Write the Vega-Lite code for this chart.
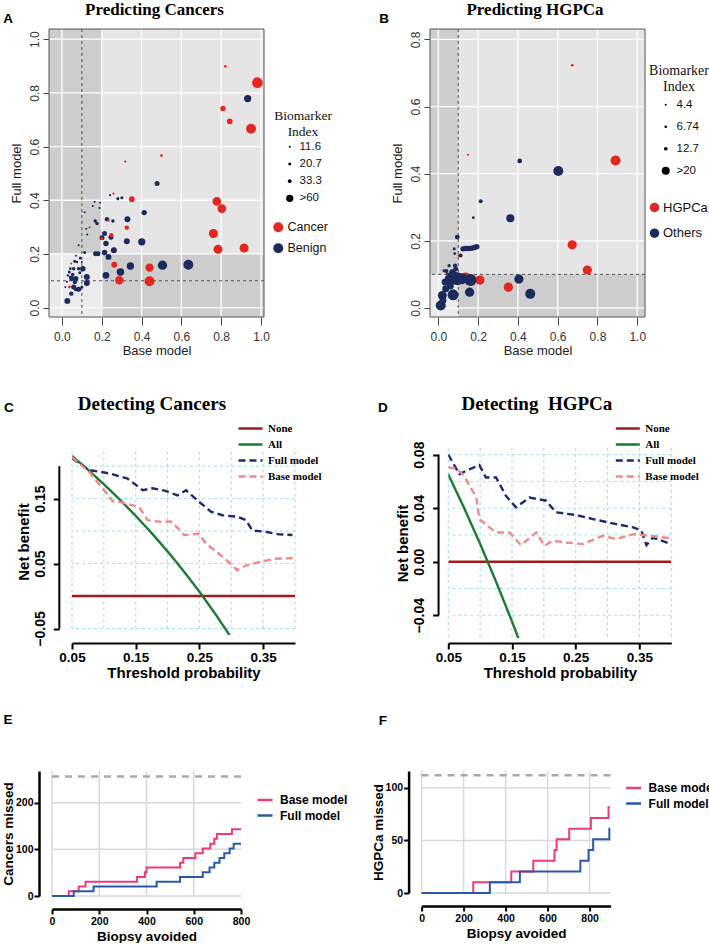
{
"$schema":"https://vega.github.io/schema/vega-lite/v6.json",
"padding":{"left":1,"top":0,"right":0,"bottom":0},
"background":"white",
"config":{"font":"Liberation Sans","view":{"stroke":null},"axis":{"labelFont":"Liberation Sans","titleFont":"Liberation Sans","grid":false},"legend":{"labelFont":"Liberation Sans","titleFont":"Liberation Sans","padding":0,"offset":0}},
"resolve":{"scale":{"color":"independent","size":"independent","strokeDash":"independent"},"legend":{"color":"independent","size":"independent","strokeDash":"independent"}},
"spacing":37,
"vconcat":[
{"hconcat":[
{"width":2,"height":1,"data":{"values":[]},"mark":"point"},
{"hconcat":[
{"width":215,"height":288,
"layer":[
{"data":{"values":[{"x":-0.065,"xe":1.015,"y":-0.035,"ye":1.038}]},"mark":{"type":"rect","color":"#e5e5e5"},
 "encoding":{"x":{"field":"x","type":"quantitative","scale":{"domain":[-0.065,1.015],"nice":false,"zero":false},"title":"Base model","axis":{"values":[0,0.2,0.4,0.6,0.8,1],"format":".1f","domain":false,"grid":false,"tickSize":8,"tickColor":"#444444","labelFontSize":12,"labelColor":"#333333","labelPadding":6,"labelFlush":false,"titleFontSize":13,"titleFontWeight":"normal","titleColor":"#222222","titlePadding":2}},
 "x2":{"field":"xe"},
 "y":{"field":"y","type":"quantitative","scale":{"domain":[-0.035,1.038],"nice":false,"zero":false},"title":"Full model","axis":{"values":[0,0.2,0.4,0.6,0.8,1],"format":".1f","domain":false,"grid":false,"tickSize":6,"tickColor":"#444444","labelFontSize":12,"labelColor":"#333333","labelAngle":270,"labelAlign":"center","labelBaseline":"bottom","labelPadding":2,"labelFlush":false,"titleFontSize":13,"titleFontWeight":"normal","titleColor":"#222222","titlePadding":5}},
 "y2":{"field":"ye"}}},
{"data":{"values":[{"x":-0.065,"xe":0.2,"y":0.2,"ye":1.038},{"x":0.2,"xe":1.015,"y":-0.035,"ye":0.2}]},"mark":{"type":"rect","color":"#cdcdcd"},
 "encoding":{"x":{"field":"x","type":"quantitative","scale":{"domain":[-0.065,1.015],"nice":false,"zero":false}},"x2":{"field":"xe"},"y":{"field":"y","type":"quantitative","scale":{"domain":[-0.035,1.038],"nice":false,"zero":false}},"y2":{"field":"ye"}}},
{"data":{"values":[{"x":-0.065,"xe":0.2,"y":-0.035,"ye":0.2}]},"mark":{"type":"rect","color":"#ebebeb"},
 "encoding":{"x":{"field":"x","type":"quantitative","scale":{"domain":[-0.065,1.015],"nice":false,"zero":false}},"x2":{"field":"xe"},"y":{"field":"y","type":"quantitative","scale":{"domain":[-0.035,1.038],"nice":false,"zero":false}},"y2":{"field":"ye"}}},
{"data":{"values":[{"x":0},{"x":0.2},{"x":0.4},{"x":0.6},{"x":0.8},{"x":1}]},"mark":{"type":"rule","color":"white","strokeWidth":1.3},
 "encoding":{"x":{"field":"x","type":"quantitative","scale":{"domain":[-0.065,1.015],"nice":false,"zero":false}}}},
{"data":{"values":[{"y":0},{"y":0.2},{"y":0.4},{"y":0.6},{"y":0.8},{"y":1}]},"mark":{"type":"rule","color":"white","strokeWidth":1.3},
 "encoding":{"y":{"field":"y","type":"quantitative","scale":{"domain":[-0.035,1.038],"nice":false,"zero":false}}}},
{"data":{"values":[{"x":0.1}]},"mark":{"type":"rule","color":"#555555","strokeWidth":1,"strokeDash":[3,3]},
 "encoding":{"x":{"field":"x","type":"quantitative","scale":{"domain":[-0.065,1.015],"nice":false,"zero":false}}}},
{"data":{"values":[{"y":0.1}]},"mark":{"type":"rule","color":"#555555","strokeWidth":1,"strokeDash":[3,3]},
 "encoding":{"y":{"field":"y","type":"quantitative","scale":{"domain":[-0.035,1.038],"nice":false,"zero":false}}}},
{"data":{"values":[{"x":-0.065,"xe":1.015,"y":-0.035,"ye":1.038}]},"mark":{"type":"rect","fill":"transparent","stroke":"#555555","strokeWidth":1},
 "encoding":{"x":{"field":"x","type":"quantitative","scale":{"domain":[-0.065,1.015],"nice":false,"zero":false}},"x2":{"field":"xe"},"y":{"field":"y","type":"quantitative","scale":{"domain":[-0.035,1.038],"nice":false,"zero":false}},"y2":{"field":"ye"}}},
{"data":{"values":[
{"x":0.821,"y":0.899,"bi":17,"g":"Cancer"},{"x":0.982,"y":0.838,"bi":115,"g":"Cancer"},{"x":0.933,"y":0.779,"bi":60,"g":"Benign"},{"x":0.809,"y":0.742,"bi":43,"g":"Cancer"},{"x":0.843,"y":0.694,"bi":46,"g":"Cancer"},{"x":0.95,"y":0.666,"bi":101,"g":"Cancer"},{"x":0.5,"y":0.566,"bi":17,"g":"Cancer"},{"x":0.318,"y":0.544,"bi":14,"g":"Cancer"},{"x":0.478,"y":0.462,"bi":41,"g":"Benign"},{"x":0.351,"y":0.404,"bi":46,"g":"Cancer"},{"x":0.778,"y":0.396,"bi":80,"g":"Cancer"},{"x":0.803,"y":0.369,"bi":80,"g":"Cancer"},{"x":0.413,"y":0.354,"bi":43,"g":"Benign"},{"x":0.329,"y":0.329,"bi":48,"g":"Benign"},{"x":0.326,"y":0.298,"bi":37,"g":"Cancer"},{"x":0.761,"y":0.276,"bi":85,"g":"Cancer"},{"x":0.401,"y":0.245,"bi":60,"g":"Benign"},{"x":0.326,"y":0.247,"bi":48,"g":"Benign"},{"x":0.784,"y":0.217,"bi":85,"g":"Cancer"},{"x":0.915,"y":0.222,"bi":85,"g":"Cancer"},{"x":0.635,"y":0.16,"bi":101,"g":"Benign"},{"x":0.505,"y":0.158,"bi":90,"g":"Benign"},{"x":0.44,"y":0.149,"bi":74,"g":"Cancer"},{"x":0.344,"y":0.155,"bi":60,"g":"Benign"},{"x":0.294,"y":0.133,"bi":63,"g":"Benign"},{"x":0.44,"y":0.098,"bi":101,"g":"Cancer"},{"x":0.288,"y":0.102,"bi":74,"g":"Cancer"},{"x":0.263,"y":0.16,"bi":48,"g":"Cancer"},{"x":0.221,"y":0.12,"bi":54,"g":"Benign"},{"x":0.261,"y":0.214,"bi":48,"g":"Benign"},{"x":0.234,"y":0.189,"bi":48,"g":"Benign"},{"x":0.214,"y":0.205,"bi":44,"g":"Benign"},{"x":0.221,"y":0.239,"bi":44,"g":"Benign"},{"x":0.246,"y":0.262,"bi":41,"g":"Benign"},{"x":0.248,"y":0.27,"bi":35,"g":"Cancer"},{"x":0.201,"y":0.26,"bi":41,"g":"Benign"},{"x":0.2,"y":0.257,"bi":20,"g":"Cancer"},{"x":0.214,"y":0.276,"bi":41,"g":"Benign"},{"x":0.226,"y":0.329,"bi":37,"g":"Benign"},{"x":0.234,"y":0.325,"bi":15,"g":"Cancer"},{"x":0.256,"y":0.323,"bi":28,"g":"Benign"},{"x":0.259,"y":0.425,"bi":14,"g":"Cancer"},{"x":0.242,"y":0.419,"bi":12,"g":"Benign"},{"x":0.281,"y":0.406,"bi":21,"g":"Benign"},{"x":0.301,"y":0.409,"bi":21,"g":"Benign"},{"x":0.192,"y":0.391,"bi":12,"g":"Benign"},{"x":0.164,"y":0.394,"bi":11.6,"g":"Benign"},{"x":0.155,"y":0.379,"bi":11.6,"g":"Benign"},{"x":0.189,"y":0.371,"bi":13,"g":"Benign"},{"x":0.114,"y":0.355,"bi":12,"g":"Benign"},{"x":0.167,"y":0.323,"bi":28,"g":"Benign"},{"x":0.176,"y":0.313,"bi":28,"g":"Benign"},{"x":0.139,"y":0.299,"bi":12,"g":"Cancer"},{"x":0.122,"y":0.294,"bi":11.6,"g":"Benign"},{"x":0.127,"y":0.272,"bi":12,"g":"Benign"},{"x":0.084,"y":0.232,"bi":11.6,"g":"Benign"},{"x":0.114,"y":0.205,"bi":21,"g":"Benign"},{"x":0.169,"y":0.201,"bi":41,"g":"Benign"},{"x":0.181,"y":0.201,"bi":41,"g":"Benign"},{"x":0.092,"y":0.185,"bi":21,"g":"Benign"},{"x":0.07,"y":0.193,"bi":12,"g":"Benign"},{"x":0.064,"y":0.173,"bi":21,"g":"Benign"},{"x":0.105,"y":0.145,"bi":44,"g":"Benign"},{"x":0.125,"y":0.114,"bi":48,"g":"Benign"},{"x":0.125,"y":0.092,"bi":48,"g":"Benign"},{"x":0.084,"y":0.068,"bi":41,"g":"Benign"},{"x":0.07,"y":0.068,"bi":35,"g":"Benign"},{"x":0.047,"y":0.052,"bi":37,"g":"Benign"},{"x":0.027,"y":0.025,"bi":48,"g":"Benign"},{"x":0.059,"y":0.077,"bi":41,"g":"Benign"},{"x":0.038,"y":0.077,"bi":17,"g":"Cancer"},{"x":0.05,"y":0.108,"bi":41,"g":"Benign"},{"x":0.07,"y":0.108,"bi":41,"g":"Benign"},{"x":0.037,"y":0.133,"bi":21,"g":"Benign"},{"x":0.059,"y":0.145,"bi":28,"g":"Benign"},{"x":0.047,"y":0.164,"bi":12,"g":"Cancer"},{"x":0.084,"y":0.145,"bi":28,"g":"Benign"},{"x":0.042,"y":0.145,"bi":17,"g":"Benign"},{"x":0.025,"y":0.096,"bi":12,"g":"Benign"},{"x":0.054,"y":0.123,"bi":28,"g":"Benign"},{"x":0.1,"y":0.17,"bi":12,"g":"Benign"},{"x":0.075,"y":0.17,"bi":17,"g":"Benign"},{"x":0.017,"y":0.077,"bi":11.6,"g":"Benign"},{"x":0.1,"y":0.077,"bi":21,"g":"Benign"},{"x":0.03,"y":0.12,"bi":15,"g":"Benign"},{"x":0.065,"y":0.095,"bi":37,"g":"Benign"},{"x":0.045,"y":0.112,"bi":35,"g":"Benign"},{"x":0.09,"y":0.13,"bi":21,"g":"Benign"}
]},"mark":{"type":"circle","opacity":1},
 "encoding":{"x":{"field":"x","type":"quantitative","scale":{"domain":[-0.065,1.015],"nice":false,"zero":false}},"y":{"field":"y","type":"quantitative","scale":{"domain":[-0.035,1.038],"nice":false,"zero":false}},
 "size":{"field":"bi","type":"quantitative","scale":{"domain":[11.6,20.7,33.3,60,120],"range":[4,9,14,53,121]},"legend":{"orient":"none","legendX":225,"legendY":80,"title":["Biomarker","Index"],"titleFont":"Liberation Serif","titleFontSize":13.5,"titleFontWeight":"normal","titleColor":"#111111","titleAlign":"center","titleAnchor":"middle","titlePadding":3,"values":[11.6,20.7,33.3,60],"labelExpr":"datum.value >= 60 ? '>60' : '' + datum.value","labelFontSize":11.5,"labelColor":"#111111","labelOffset":4,"symbolFillColor":"black","symbolStrokeWidth":0,"symbolType":"circle","rowPadding":4.2}},
 "color":{"field":"g","type":"nominal","scale":{"domain":["Cancer","Benign"],"range":["#e3261f","#1c2a5c"]},"legend":{"orient":"none","legendX":223,"legendY":192,"title":null,"labelFontSize":12.5,"labelColor":"#111111","labelOffset":3,"symbolType":"circle","symbolSize":100,"symbolStrokeWidth":0,"rowPadding":8}}}},
{"data":{"values":[{"label":"Predicting Cancers"}]},"mark":{"type":"text","font":"Liberation Serif","fontSize":17,"fontWeight":"bold","align":"center","baseline":"alphabetic","color":"black"},
 "encoding":{"x":{"datum":0.465},"y":{"datum":1.092},"text":{"field":"label"}}},
{"data":{"values":[{"label":"A"}]},"mark":{"type":"text","font":"Liberation Sans","fontSize":13.5,"fontWeight":"bold","align":"center","baseline":"middle","color":"black"},
 "encoding":{"x":{"datum":-0.27},"y":{"datum":1.077},"text":{"field":"label"}}}
]},
{"width":215,"height":288,
"layer":[
{"data":{"values":[{"x":-0.042,"xe":1.039,"y":-0.027,"ye":0.831}]},"mark":{"type":"rect","color":"#e5e5e5"},
 "encoding":{"x":{"field":"x","type":"quantitative","scale":{"domain":[-0.042,1.039],"nice":false,"zero":false},"title":"Base model","axis":{"values":[0,0.2,0.4,0.6,0.8,1],"format":".1f","domain":false,"grid":false,"tickSize":8,"tickColor":"#444444","labelFontSize":12,"labelColor":"#333333","labelPadding":6,"labelFlush":false,"titleFontSize":13,"titleFontWeight":"normal","titleColor":"#222222","titlePadding":2}},
 "x2":{"field":"xe"},
 "y":{"field":"y","type":"quantitative","scale":{"domain":[-0.027,0.831],"nice":false,"zero":false},"title":"Full model","axis":{"values":[0,0.2,0.4,0.6,0.8],"format":".1f","domain":false,"grid":false,"tickSize":6,"tickColor":"#444444","labelFontSize":12,"labelColor":"#333333","labelAngle":270,"labelAlign":"center","labelBaseline":"bottom","labelPadding":2,"labelFlush":false,"titleFontSize":13,"titleFontWeight":"normal","titleColor":"#222222","titlePadding":5}},
 "y2":{"field":"ye"}}},
{"data":{"values":[{"x":-0.042,"xe":0.1,"y":0.1,"ye":0.831},{"x":0.1,"xe":1.039,"y":-0.027,"ye":0.1}]},"mark":{"type":"rect","color":"#cdcdcd"},
 "encoding":{"x":{"field":"x","type":"quantitative","scale":{"domain":[-0.042,1.039],"nice":false,"zero":false}},"x2":{"field":"xe"},"y":{"field":"y","type":"quantitative","scale":{"domain":[-0.027,0.831],"nice":false,"zero":false}},"y2":{"field":"ye"}}},
{"data":{"values":[{"x":-0.042,"xe":0.1,"y":-0.027,"ye":0.1}]},"mark":{"type":"rect","color":"#ebebeb"},
 "encoding":{"x":{"field":"x","type":"quantitative","scale":{"domain":[-0.042,1.039],"nice":false,"zero":false}},"x2":{"field":"xe"},"y":{"field":"y","type":"quantitative","scale":{"domain":[-0.027,0.831],"nice":false,"zero":false}},"y2":{"field":"ye"}}},
{"data":{"values":[{"x":0},{"x":0.2},{"x":0.4},{"x":0.6},{"x":0.8},{"x":1}]},"mark":{"type":"rule","color":"white","strokeWidth":1.3},
 "encoding":{"x":{"field":"x","type":"quantitative","scale":{"domain":[-0.042,1.039],"nice":false,"zero":false}}}},
{"data":{"values":[{"y":0},{"y":0.2},{"y":0.4},{"y":0.6},{"y":0.8}]},"mark":{"type":"rule","color":"white","strokeWidth":1.3},
 "encoding":{"y":{"field":"y","type":"quantitative","scale":{"domain":[-0.027,0.831],"nice":false,"zero":false}}}},
{"data":{"values":[{"x":0.1}]},"mark":{"type":"rule","color":"#555555","strokeWidth":1,"strokeDash":[3,3]},
 "encoding":{"x":{"field":"x","type":"quantitative","scale":{"domain":[-0.042,1.039],"nice":false,"zero":false}}}},
{"data":{"values":[{"y":0.1}]},"mark":{"type":"rule","color":"#555555","strokeWidth":1,"strokeDash":[3,3]},
 "encoding":{"y":{"field":"y","type":"quantitative","scale":{"domain":[-0.027,0.831],"nice":false,"zero":false}}}},
{"data":{"values":[{"x":-0.042,"xe":1.039,"y":-0.027,"ye":0.831}]},"mark":{"type":"rect","fill":"transparent","stroke":"#555555","strokeWidth":1},
 "encoding":{"x":{"field":"x","type":"quantitative","scale":{"domain":[-0.042,1.039],"nice":false,"zero":false}},"x2":{"field":"xe"},"y":{"field":"y","type":"quantitative","scale":{"domain":[-0.027,0.831],"nice":false,"zero":false}},"y2":{"field":"ye"}}},
{"data":{"values":[
{"x":0.673,"y":0.723,"bi":6.74,"g":"HGPCa"},{"x":0.149,"y":0.456,"bi":4.4,"g":"HGPCa"},{"x":0.409,"y":0.438,"bi":14,"g":"Others"},{"x":0.603,"y":0.408,"bi":26.8,"g":"Others"},{"x":0.891,"y":0.439,"bi":26.8,"g":"HGPCa"},{"x":0.213,"y":0.318,"bi":13,"g":"Others"},{"x":0.176,"y":0.269,"bi":6.74,"g":"Others"},{"x":0.362,"y":0.267,"bi":20,"g":"Others"},{"x":0.673,"y":0.188,"bi":24,"g":"HGPCa"},{"x":0.749,"y":0.113,"bi":24,"g":"HGPCa"},{"x":0.095,"y":0.211,"bi":14,"g":"Others"},{"x":0.352,"y":0.062,"bi":24,"g":"HGPCa"},{"x":0.405,"y":0.086,"bi":24,"g":"Others"},{"x":0.462,"y":0.042,"bi":26.8,"g":"Others"},{"x":0.137,"y":0.094,"bi":20,"g":"HGPCa"},{"x":0.209,"y":0.083,"bi":24,"g":"HGPCa"},{"x":0.162,"y":0.083,"bi":35,"g":"Others"},{"x":0.157,"y":0.047,"bi":24,"g":"Others"},{"x":0.104,"y":0.156,"bi":6.74,"g":"HGPCa"},{"x":0.112,"y":0.156,"bi":13,"g":"Others"},
{"x":0.124,"y":0.176,"bi":15,"g":"Others"},{"x":0.137,"y":0.177,"bi":15,"g":"Others"},{"x":0.152,"y":0.177,"bi":15,"g":"Others"},{"x":0.168,"y":0.178,"bi":15,"g":"Others"},{"x":0.181,"y":0.18,"bi":15,"g":"Others"},{"x":0.193,"y":0.182,"bi":15,"g":"Others"},
{"x":0.08,"y":0.176,"bi":8.3,"g":"Others"},{"x":0.082,"y":0.162,"bi":6.74,"g":"Others"},{"x":0.054,"y":0.126,"bi":10,"g":"Others"},{"x":0.084,"y":0.126,"bi":13.3,"g":"Others"},{"x":0.087,"y":0.116,"bi":14.3,"g":"Others"},{"x":0.045,"y":0.101,"bi":8.3,"g":"Others"},{"x":0.028,"y":0.111,"bi":6.74,"g":"Others"},{"x":0.04,"y":0.11,"bi":13.3,"g":"Others"},{"x":0.045,"y":0.097,"bi":8.3,"g":"HGPCa"},{"x":0.07,"y":0.106,"bi":16,"g":"Others"},{"x":0.08,"y":0.1,"bi":16,"g":"Others"},{"x":0.05,"y":0.087,"bi":17.8,"g":"Others"},{"x":0.065,"y":0.095,"bi":20,"g":"Others"},{"x":0.034,"y":0.077,"bi":17.8,"g":"Others"},{"x":0.062,"y":0.082,"bi":26.8,"g":"Others"},{"x":0.095,"y":0.087,"bi":40,"g":"Others"},{"x":0.12,"y":0.087,"bi":30.7,"g":"Others"},{"x":0.06,"y":0.065,"bi":17.8,"g":"Others"},{"x":0.037,"y":0.057,"bi":17.8,"g":"Others"},{"x":0.074,"y":0.039,"bi":30.7,"g":"Others"},{"x":0.02,"y":0.037,"bi":23.2,"g":"Others"},{"x":0.023,"y":0.022,"bi":17.8,"g":"Others"},{"x":0.012,"y":0.007,"bi":26.8,"g":"Others"}
]},"mark":{"type":"circle","opacity":1},
 "encoding":{"x":{"field":"x","type":"quantitative","scale":{"domain":[-0.042,1.039],"nice":false,"zero":false}},"y":{"field":"y","type":"quantitative","scale":{"domain":[-0.027,0.831],"nice":false,"zero":false}},
 "size":{"field":"bi","type":"quantitative","scale":{"domain":[4.4,6.74,12.7,20,40],"range":[4,7.3,14,64,170]},"legend":{"orient":"none","legendX":219,"legendY":35,"title":["Biomarker","Index"],"titleFont":"Liberation Serif","titleFontSize":14,"titleFontWeight":"normal","titleColor":"#111111","titleAlign":"center","titleAnchor":"middle","titlePadding":5,"values":[4.4,6.74,12.7,20],"labelExpr":"datum.value >= 20 ? '>20' : '' + datum.value","labelFontSize":11.5,"labelColor":"#111111","labelOffset":5,"symbolFillColor":"black","symbolStrokeWidth":0,"symbolType":"circle","rowPadding":9}},
 "color":{"field":"g","type":"nominal","scale":{"domain":["HGPCa","Others"],"range":["#e3261f","#1c2a5c"]},"legend":{"orient":"none","legendX":218,"legendY":172,"title":null,"labelFontSize":13,"labelColor":"#111111","labelOffset":2,"symbolType":"circle","symbolSize":90,"symbolStrokeWidth":0,"rowPadding":11.7}}}},
{"data":{"values":[{"label":"Predicting HGPCa"}]},"mark":{"type":"text","font":"Liberation Serif","fontSize":17,"fontWeight":"bold","align":"center","baseline":"alphabetic","color":"black"},
 "encoding":{"x":{"datum":0.486},"y":{"datum":0.873},"text":{"field":"label"}}},
{"data":{"values":[{"label":"B"}]},"mark":{"type":"text","font":"Liberation Sans","fontSize":13.5,"fontWeight":"bold","align":"center","baseline":"middle","color":"black"},
 "encoding":{"x":{"datum":-0.273},"y":{"datum":0.861},"text":{"field":"label"}}}
]}
],"spacing":166,"bounds":"flush","resolve":{"scale":{"color":"independent","size":"independent","strokeDash":"independent"},"legend":{"color":"independent","size":"independent","strokeDash":"independent"}}}
],"spacing":0,"bounds":"flush","resolve":{"scale":{"color":"independent","size":"independent","strokeDash":"independent"},"legend":{"color":"independent","size":"independent","strokeDash":"independent"}}},
{"vconcat":[
{"hconcat":[
{"width":24.7,"height":1,"data":{"values":[]},"mark":"point"},
{"hconcat":[
{"width":223,"height":187,
"layer":[
{"data":{"values":[{"t":0.05},{"t":0.1},{"t":0.15},{"t":0.2},{"t":0.25},{"t":0.3},{"t":0.35},{"t":0.4}]},"mark":{"type":"rule","color":"#a6dcef","strokeWidth":1,"strokeDash":[3,3]},
 "encoding":{"x":{"field":"t","type":"quantitative","scale":{"domain":[0.05,0.4],"nice":false,"zero":false},"title":"Threshold probability","axis":{"values":[0.05,0.1,0.15,0.2,0.25,0.3,0.35,0.4],"labelExpr":"round(datum.value*100) % 10 == 5 ? format(datum.value, '.2f') : ''","offset":8,"domainColor":"black","domainWidth":2,"tickColor":"black","tickWidth":2,"tickSize":6,"labelFontSize":13.5,"labelFontWeight":"bold","labelColor":"black","labelPadding":1,"labelFlush":false,"titleFontSize":15,"titleFontWeight":"bold","titleColor":"black","titlePadding":2}},
 "y":{"datum":-0.05},"y2":{"datum":0.228}}},
{"data":{"values":[{"nb":-0.05},{"nb":0.05},{"nb":0.1},{"nb":0.15},{"nb":0.2}]},"mark":{"type":"rule","color":"#a6dcef","strokeWidth":1,"strokeDash":[3,3]},
 "encoding":{"y":{"field":"nb","type":"quantitative","scale":{"domain":[-0.06,0.228],"nice":false,"zero":false},"title":"Net benefit","axis":{"values":[-0.05,0,0.05,0.1,0.15,0.2],"labelExpr":"round(datum.value*100) % 10 != 0 ? format(datum.value, '.2f') : ''","offset":12.7,"domain":false,"tickColor":"black","tickWidth":2,"tickSize":6,"labelFontSize":14,"labelFontWeight":"bold","labelColor":"black","labelAngle":270,"labelAlign":"center","labelBaseline":"bottom","labelPadding":6,"labelFlush":false,"titleFontSize":15,"titleFontWeight":"bold","titleColor":"black","titlePadding":2}}}},
{"data":{"values":[{"lab":"axis"}]},"mark":{"type":"rule","color":"black","strokeWidth":2},
 "encoding":{"x":{"datum":0.0301},"y":{"datum":-0.05},"y2":{"datum":0.2}}},
{"data":{"values":[
{"s":"None","t":0.05,"nb":0},{"s":"None","t":0.4,"nb":0},
{"s":"All","t":0.05,"nb":0.2158},{"s":"All","t":0.075,"nb":0.1946},{"s":"All","t":0.1,"nb":0.1722},{"s":"All","t":0.125,"nb":0.1486},{"s":"All","t":0.15,"nb":0.1235},{"s":"All","t":0.175,"nb":0.097},{"s":"All","t":0.2,"nb":0.0688},{"s":"All","t":0.225,"nb":0.0387},{"s":"All","t":0.25,"nb":0.0067},{"s":"All","t":0.275,"nb":-0.0276},{"s":"All","t":0.3,"nb":-0.0643},
{"s":"Full model","t":0.05,"nb":0.212},{"s":"Full model","t":0.077,"nb":0.194},{"s":"Full model","t":0.108,"nb":0.189},{"s":"Full model","t":0.137,"nb":0.181},{"s":"Full model","t":0.161,"nb":0.163},{"s":"Full model","t":0.176,"nb":0.166},{"s":"Full model","t":0.197,"nb":0.162},{"s":"Full model","t":0.2155,"nb":0.155},{"s":"Full model","t":0.229,"nb":0.163},{"s":"Full model","t":0.2495,"nb":0.145},{"s":"Full model","t":0.268,"nb":0.13},{"s":"Full model","t":0.286,"nb":0.1245},{"s":"Full model","t":0.31,"nb":0.122},{"s":"Full model","t":0.323,"nb":0.117},{"s":"Full model","t":0.333,"nb":0.101},{"s":"Full model","t":0.354,"nb":0.099},{"s":"Full model","t":0.375,"nb":0.095},{"s":"Full model","t":0.396,"nb":0.094},
{"s":"Base model","t":0.05,"nb":0.214},{"s":"Base model","t":0.077,"nb":0.191},{"s":"Base model","t":0.098,"nb":0.166},{"s":"Base model","t":0.114,"nb":0.146},{"s":"Base model","t":0.125,"nb":0.145},{"s":"Base model","t":0.1555,"nb":0.137},{"s":"Base model","t":0.1685,"nb":0.117},{"s":"Base model","t":0.192,"nb":0.114},{"s":"Base model","t":0.205,"nb":0.115},{"s":"Base model","t":0.221,"nb":0.0998},{"s":"Base model","t":0.226,"nb":0.094},{"s":"Base model","t":0.2495,"nb":0.096},{"s":"Base model","t":0.26,"nb":0.081},{"s":"Base model","t":0.281,"nb":0.065},{"s":"Base model","t":0.302,"nb":0.047},{"s":"Base model","t":0.309,"nb":0.04},{"s":"Base model","t":0.323,"nb":0.047},{"s":"Base model","t":0.349,"nb":0.0535},{"s":"Base model","t":0.37,"nb":0.0575},{"s":"Base model","t":0.4,"nb":0.0586}
]},"mark":{"type":"line","strokeWidth":2.4,"clip":true},
 "encoding":{"x":{"field":"t","type":"quantitative","scale":{"domain":[0.05,0.4],"nice":false,"zero":false}},"y":{"field":"nb","type":"quantitative","scale":{"domain":[-0.06,0.228],"nice":false,"zero":false}},
 "color":{"field":"s","type":"nominal","scale":{"domain":["None","All","Full model","Base model"],"range":["#a01c1c","#1e7a34","#1f2a6b","#f08a8a"]},"legend":{"orient":"none","legendX":165,"legendY":-27.5,"title":null,"labelFont":"Liberation Serif","labelFontSize":11,"labelFontWeight":"bold","labelColor":"black","labelOffset":4,"symbolType":"stroke","symbolSize":576,"symbolStrokeWidth":2.5,"rowPadding":0,"clipHeight":16}},
 "strokeDash":{"field":"s","type":"nominal","scale":{"domain":["None","All","Full model","Base model"],"range":[[1,0],[1,0],[7,4],[7,4]]},"legend":{"orient":"none","legendX":165,"legendY":-27.5,"title":null,"labelFont":"Liberation Serif","labelFontSize":11,"labelFontWeight":"bold","labelColor":"black","labelOffset":4,"symbolType":"stroke","symbolSize":576,"symbolStrokeWidth":2.5,"rowPadding":0,"clipHeight":16}}}},
{"data":{"values":[{"label":"Detecting Cancers"}]},"mark":{"type":"text","font":"Liberation Serif","fontSize":19,"fontWeight":"bold","align":"center","baseline":"alphabetic","color":"black"},
 "encoding":{"x":{"datum":0.1754},"y":{"datum":0.287},"text":{"field":"label"}}},
{"data":{"values":[{"label":"C"}]},"mark":{"type":"text","font":"Liberation Sans","fontSize":13.5,"fontWeight":"bold","align":"center","baseline":"middle","color":"black"},
 "encoding":{"x":{"datum":-0.049},"y":{"datum":0.29},"text":{"field":"label"}}}
]},
{"width":223,"height":190,
"layer":[
{"data":{"values":[{"t":0.05},{"t":0.1},{"t":0.15},{"t":0.2},{"t":0.25},{"t":0.3},{"t":0.35},{"t":0.4}]},"mark":{"type":"rule","color":"#a6dcef","strokeWidth":1,"strokeDash":[3,3]},
 "encoding":{"x":{"field":"t","type":"quantitative","scale":{"domain":[0.05,0.4],"nice":false,"zero":false},"title":"Threshold probability","axis":{"values":[0.05,0.1,0.15,0.2,0.25,0.3,0.35,0.4],"labelExpr":"round(datum.value*100) % 10 == 5 ? format(datum.value, '.2f') : ''","offset":5,"domainColor":"black","domainWidth":2,"tickColor":"black","tickWidth":2,"tickSize":6,"labelFontSize":13.5,"labelFontWeight":"bold","labelColor":"black","labelPadding":1,"labelFlush":false,"titleFontSize":15,"titleFontWeight":"bold","titleColor":"black","titlePadding":2}}}},
{"data":{"values":[{"nb":-0.04},{"nb":-0.02},{"nb":0.02},{"nb":0.04},{"nb":0.06},{"nb":0.08}]},"mark":{"type":"rule","color":"#a6dcef","strokeWidth":1,"strokeDash":[3,3]},
 "encoding":{"y":{"field":"nb","type":"quantitative","scale":{"domain":[-0.057,0.085],"nice":false,"zero":false},"title":"Net benefit","axis":{"values":[-0.04,-0.02,0,0.02,0.04,0.06,0.08],"labelExpr":"round(datum.value*100) % 4 == 0 ? format(datum.value, '.2f') : ''","offset":9.7,"domain":false,"tickColor":"black","tickWidth":2,"tickSize":6,"labelFontSize":14,"labelFontWeight":"bold","labelColor":"black","labelAngle":270,"labelAlign":"center","labelBaseline":"bottom","labelPadding":6,"labelFlush":false,"titleFontSize":15,"titleFontWeight":"bold","titleColor":"black","titlePadding":2}}}},
{"data":{"values":[{"lab":"axis"}]},"mark":{"type":"rule","color":"black","strokeWidth":2},
 "encoding":{"x":{"datum":0.0347},"y":{"datum":-0.04},"y2":{"datum":0.08}}},
{"data":{"values":[
{"s":"None","t":0.05,"nb":0},{"s":"None","t":0.4,"nb":0},
{"s":"All","t":0.05,"nb":0.0653},{"s":"All","t":0.075,"nb":0.04},{"s":"All","t":0.1,"nb":0.0133},{"s":"All","t":0.125,"nb":-0.0149},{"s":"All","t":0.15,"nb":-0.0447},{"s":"All","t":0.16,"nb":-0.0571},
{"s":"Full model","t":0.05,"nb":0.08},{"s":"Full model","t":0.0673,"nb":0.0655},{"s":"Full model","t":0.083,"nb":0.069},{"s":"Full model","t":0.0987,"nb":0.0723},{"s":"Full model","t":0.109,"nb":0.063},{"s":"Full model","t":0.125,"nb":0.063},{"s":"Full model","t":0.1407,"nb":0.049},{"s":"Full model","t":0.1564,"nb":0.0406},{"s":"Full model","t":0.1774,"nb":0.048},{"s":"Full model","t":0.2036,"nb":0.0456},{"s":"Full model","t":0.219,"nb":0.0369},{"s":"Full model","t":0.2508,"nb":0.0349},{"s":"Full model","t":0.277,"nb":0.0319},{"s":"Full model","t":0.3137,"nb":0.0281},{"s":"Full model","t":0.34,"nb":0.0257},{"s":"Full model","t":0.353,"nb":0.0232},{"s":"Full model","t":0.361,"nb":0.0124},{"s":"Full model","t":0.371,"nb":0.018},{"s":"Full model","t":0.4,"nb":0.0132},
{"s":"Base model","t":0.05,"nb":0.0705},{"s":"Base model","t":0.062,"nb":0.0698},{"s":"Base model","t":0.0752,"nb":0.0643},{"s":"Base model","t":0.083,"nb":0.0568},{"s":"Base model","t":0.0935,"nb":0.049},{"s":"Base model","t":0.0987,"nb":0.0319},{"s":"Base model","t":0.1145,"nb":0.0257},{"s":"Base model","t":0.125,"nb":0.0219},{"s":"Base model","t":0.146,"nb":0.0219},{"s":"Base model","t":0.164,"nb":0.0124},{"s":"Base model","t":0.188,"nb":0.0219},{"s":"Base model","t":0.201,"nb":0.012},{"s":"Base model","t":0.214,"nb":0.0157},{"s":"Base model","t":0.235,"nb":0.0144},{"s":"Base model","t":0.261,"nb":0.0132},{"s":"Base model","t":0.2926,"nb":0.0194},{"s":"Base model","t":0.314,"nb":0.0169},{"s":"Base model","t":0.34,"nb":0.0206},{"s":"Base model","t":0.366,"nb":0.0194},{"s":"Base model","t":0.4,"nb":0.0174}
]},"mark":{"type":"line","strokeWidth":2.4,"clip":true},
 "encoding":{"x":{"field":"t","type":"quantitative","scale":{"domain":[0.05,0.4],"nice":false,"zero":false}},"y":{"field":"nb","type":"quantitative","scale":{"domain":[-0.057,0.085],"nice":false,"zero":false}},
 "color":{"field":"s","type":"nominal","scale":{"domain":["None","All","Full model","Base model"],"range":["#a01c1c","#1e7a34","#1f2a6b","#f08a8a"]},"legend":{"orient":"none","legendX":166,"legendY":-27.5,"title":null,"labelFont":"Liberation Serif","labelFontSize":11,"labelFontWeight":"bold","labelColor":"black","labelOffset":4,"symbolType":"stroke","symbolSize":576,"symbolStrokeWidth":2.5,"rowPadding":0,"clipHeight":16}},
 "strokeDash":{"field":"s","type":"nominal","scale":{"domain":["None","All","Full model","Base model"],"range":[[1,0],[1,0],[7,4],[7,4]]},"legend":{"orient":"none","legendX":166,"legendY":-27.5,"title":null,"labelFont":"Liberation Serif","labelFontSize":11,"labelFontWeight":"bold","labelColor":"black","labelOffset":4,"symbolType":"stroke","symbolSize":576,"symbolStrokeWidth":2.5,"rowPadding":0,"clipHeight":16}}}},
{"data":{"values":[{"label":"Detecting\u00a0 HGPCa"}]},"mark":{"type":"text","font":"Liberation Serif","fontSize":19,"fontWeight":"bold","align":"center","baseline":"alphabetic","color":"black"},
 "encoding":{"x":{"datum":0.189},"y":{"datum":0.1132},"text":{"field":"label"}}},
{"data":{"values":[{"label":"D"}]},"mark":{"type":"text","font":"Liberation Sans","fontSize":13.5,"fontWeight":"bold","align":"center","baseline":"middle","color":"black"},
 "encoding":{"x":{"datum":-0.0525},"y":{"datum":0.1147},"text":{"field":"label"}}}
]}
],"spacing":153.3,"bounds":"flush","resolve":{"scale":{"color":"independent","size":"independent","strokeDash":"independent"},"legend":{"color":"independent","size":"independent","strokeDash":"independent"}}}
],"spacing":0,"bounds":"flush","resolve":{"scale":{"color":"independent","size":"independent","strokeDash":"independent"},"legend":{"color":"independent","size":"independent","strokeDash":"independent"}}},
{"hconcat":[
{"width":4.7,"height":1,"data":{"values":[]},"mark":"point"},
{"hconcat":[
{"width":189,"height":125,
"layer":[
{"data":{"values":[{"x":0},{"x":200},{"x":400},{"x":600}]},"mark":{"type":"rule","color":"#d9d9d9","strokeWidth":1.5},
 "encoding":{"x":{"field":"x","type":"quantitative","scale":{"domain":[0,800],"nice":false,"zero":false},"title":"Biopsy avoided","axis":{"values":[0,200,400,600,800],"offset":13,"domainColor":"black","domainWidth":2.5,"tickColor":"black","tickWidth":2,"tickSize":5,"labelFontSize":10.5,"labelFontWeight":"bold","labelColor":"black","labelPadding":2,"labelFlush":false,"titleFontSize":13.5,"titleFontWeight":"bold","titleColor":"black","titlePadding":3}}}},
{"data":{"values":[{"y":0},{"y":100},{"y":200}]},"mark":{"type":"rule","color":"#d9d9d9","strokeWidth":1.5},
 "encoding":{"y":{"field":"y","type":"quantitative","scale":{"domain":[0,267.8],"nice":false,"zero":false},"title":"Cancers missed","axis":{"values":[0,100,200],"offset":13,"domainColor":"black","domainWidth":2.5,"tickColor":"black","tickWidth":2,"tickSize":5,"labelFontSize":10.5,"labelFontWeight":"bold","labelColor":"black","labelPadding":1,"labelFlush":false,"titleFontSize":13.5,"titleFontWeight":"bold","titleColor":"black","titlePadding":0}}}},
{"data":{"values":[{"y":256}]},"mark":{"type":"rule","color":"#a9a9a9","strokeWidth":2.5,"strokeDash":[7,6]},
 "encoding":{"y":{"field":"y","type":"quantitative","scale":{"domain":[0,267.8],"nice":false,"zero":false}}}},
{"data":{"values":[
{"s":"Base model","x":0,"y":0},{"s":"Base model","x":71,"y":10.2},{"s":"Base model","x":113,"y":20.4},{"s":"Base model","x":142,"y":30.6},{"s":"Base model","x":360,"y":40.8},{"s":"Base model","x":393,"y":51},{"s":"Base model","x":400,"y":61.2},{"s":"Base model","x":542,"y":71.4},{"s":"Base model","x":556,"y":81.6},{"s":"Base model","x":607,"y":91.8},{"s":"Base model","x":638,"y":102},{"s":"Base model","x":670,"y":112.2},{"s":"Base model","x":687,"y":122.4},{"s":"Base model","x":698,"y":132.6},{"s":"Base model","x":762,"y":142.8},{"s":"Base model","x":800,"y":142.8},
{"s":"Full model","x":0,"y":0},{"s":"Full model","x":92,"y":10.2},{"s":"Full model","x":176,"y":20.4},{"s":"Full model","x":443,"y":30.6},{"s":"Full model","x":542,"y":40.8},{"s":"Full model","x":638,"y":51},{"s":"Full model","x":667,"y":61.2},{"s":"Full model","x":687,"y":71.4},{"s":"Full model","x":709,"y":81.6},{"s":"Full model","x":729,"y":91.8},{"s":"Full model","x":752,"y":102},{"s":"Full model","x":769,"y":112.2},{"s":"Full model","x":800,"y":112.2}
]},"mark":{"type":"line","interpolate":"step-after","strokeWidth":2},
 "encoding":{"x":{"field":"x","type":"quantitative","scale":{"domain":[0,800],"nice":false,"zero":false}},"y":{"field":"y","type":"quantitative","scale":{"domain":[0,267.8],"nice":false,"zero":false}},
 "color":{"field":"s","type":"nominal","scale":{"domain":["Base model","Full model"],"range":["#ee3a7b","#2b58a6"]},"legend":{"orient":"none","legendX":204,"legendY":20,"title":null,"labelFontSize":12,"labelFontWeight":"bold","labelColor":"black","labelOffset":6,"symbolType":"stroke","symbolSize":225,"symbolStrokeWidth":2.5,"rowPadding":0.5}}}},
{"data":{"values":[{"label":"E"}]},"mark":{"type":"text","font":"Liberation Sans","fontSize":13.5,"fontWeight":"bold","align":"center","baseline":"middle","color":"black"},
 "encoding":{"x":{"datum":-186},"y":{"datum":378},"text":{"field":"label"}}}
]},
{"width":189,"height":122,
"layer":[
{"data":{"values":[{"x":0},{"x":200},{"x":400},{"x":600},{"x":800}]},"mark":{"type":"rule","color":"#d9d9d9","strokeWidth":1.5},
 "encoding":{"x":{"field":"x","type":"quantitative","scale":{"domain":[0,900],"nice":false,"zero":false},"title":"Biopsy avoided","axis":{"values":[0,200,400,600,800],"offset":13,"domainColor":"black","domainWidth":2.5,"tickColor":"black","tickWidth":2,"tickSize":5,"labelFontSize":10.5,"labelFontWeight":"bold","labelColor":"black","labelPadding":2,"labelFlush":false,"titleFontSize":13.5,"titleFontWeight":"bold","titleColor":"black","titlePadding":3}}}},
{"data":{"values":[{"y":0},{"y":50},{"y":100}]},"mark":{"type":"rule","color":"#d9d9d9","strokeWidth":1.5},
 "encoding":{"y":{"field":"y","type":"quantitative","scale":{"domain":[0,116],"nice":false,"zero":false},"title":"HGPCa missed","axis":{"values":[0,50,100],"offset":13,"domainColor":"black","domainWidth":2.5,"tickColor":"black","tickWidth":2,"tickSize":5,"labelFontSize":10.5,"labelFontWeight":"bold","labelColor":"black","labelPadding":1,"labelFlush":false,"titleFontSize":13.5,"titleFontWeight":"bold","titleColor":"black","titlePadding":0}}}},
{"data":{"values":[{"y":112}]},"mark":{"type":"rule","color":"#a9a9a9","strokeWidth":2.5,"strokeDash":[7,6]},
 "encoding":{"y":{"field":"y","type":"quantitative","scale":{"domain":[0,116],"nice":false,"zero":false}}}},
{"data":{"values":[
{"s":"Base model","x":0,"y":0},{"s":"Base model","x":246,"y":10.2},{"s":"Base model","x":427,"y":20.4},{"s":"Base model","x":532,"y":30.6},{"s":"Base model","x":633,"y":40.8},{"s":"Base model","x":643,"y":51},{"s":"Base model","x":703,"y":61.2},{"s":"Base model","x":806,"y":71.4},{"s":"Base model","x":890,"y":81.6},{"s":"Base model","x":897,"y":81.6},
{"s":"Full model","x":0,"y":0},{"s":"Full model","x":325,"y":10.2},{"s":"Full model","x":468,"y":20.4},{"s":"Full model","x":756,"y":30.6},{"s":"Full model","x":795,"y":40.8},{"s":"Full model","x":817,"y":51},{"s":"Full model","x":894,"y":61.2},{"s":"Full model","x":897,"y":61.2}
]},"mark":{"type":"line","interpolate":"step-after","strokeWidth":2},
 "encoding":{"x":{"field":"x","type":"quantitative","scale":{"domain":[0,900],"nice":false,"zero":false}},"y":{"field":"y","type":"quantitative","scale":{"domain":[0,116],"nice":false,"zero":false}},
 "color":{"field":"s","type":"nominal","scale":{"domain":["Base model","Full model"],"range":["#ee3a7b","#2b58a6"]},"legend":{"orient":"none","legendX":203,"legendY":8,"title":null,"labelFontSize":12,"labelFontWeight":"bold","labelColor":"black","labelOffset":6,"symbolType":"stroke","symbolSize":225,"symbolStrokeWidth":2.5,"rowPadding":0.5}}}},
{"data":{"values":[{"label":"F"}]},"mark":{"type":"text","font":"Liberation Sans","fontSize":13.5,"fontWeight":"bold","align":"center","baseline":"middle","color":"black"},
 "encoding":{"x":{"datum":-184},"y":{"datum":164},"text":{"field":"label"}}}
]}
],"spacing":180.6,"bounds":"flush","resolve":{"scale":{"color":"independent","size":"independent","strokeDash":"independent"},"legend":{"color":"independent","size":"independent","strokeDash":"independent"}}}
],"spacing":0,"bounds":"flush","resolve":{"scale":{"color":"independent","size":"independent","strokeDash":"independent"},"legend":{"color":"independent","size":"independent","strokeDash":"independent"}}}
],"spacing":31,"resolve":{"scale":{"color":"independent","size":"independent","strokeDash":"independent"},"legend":{"color":"independent","size":"independent","strokeDash":"independent"}}}
]
}
